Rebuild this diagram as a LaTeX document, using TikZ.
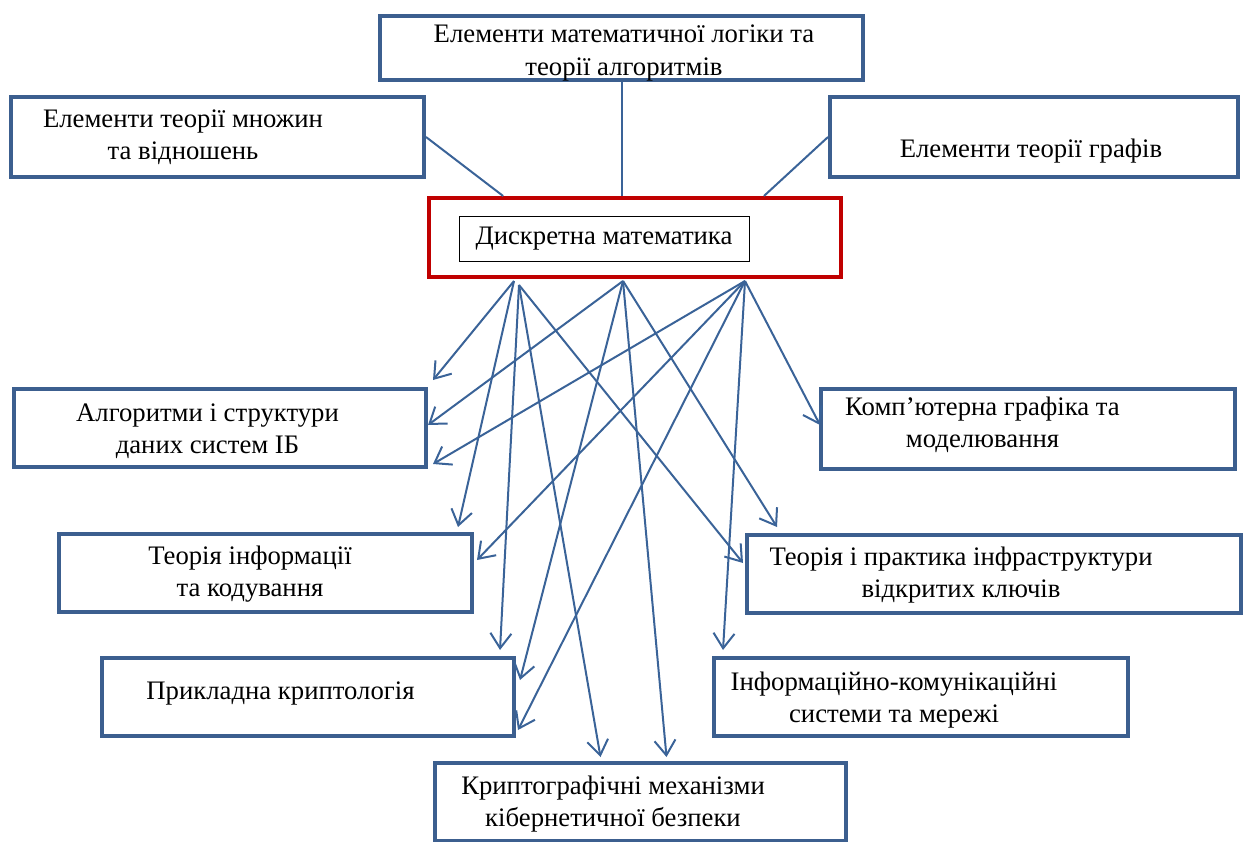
\documentclass[tikz,border=0pt]{standalone}
\usepackage{fontspec}
\setmainfont{Liberation Serif}
\usetikzlibrary{arrows.meta,calc}

\definecolor{boxblue}{HTML}{3C5F8F}
\definecolor{lineblue}{HTML}{3A6398}
\definecolor{dmred}{HTML}{C00000}

\begin{document}
\begin{tikzpicture}[x=0.2mm, y=-0.2mm, font=\fontsize{15.2}{18.4}\selectfont,
    box/.style 2 args={draw=boxblue, line width=0.8mm, inner sep=0pt,
        minimum width=#1*0.2mm, minimum height=#2*0.2mm},
    txt/.style={align=center, inner sep=0pt},
    link/.style={draw=lineblue, line width=0.4mm},
    arr/.style={link, -{Straight Barb[length=3mm, width=4.2mm]}}]

        \useasboundingbox (0,0) rectangle (1246,841);

        % Upper row
        \node[box={483}{64}] (logic) at (621.5,48) {};
        \node[txt] (logic-t) at (624,53) {Елементи математичної логіки та\\теорії алгоритмів};
        \node[box={413}{80}] (setl) at (217.5,137) {};
        \node[txt] (setl-t) at (183,137) {Елементи теорії множин\\та відношень};
        \node[box={408}{80}] (graph) at (1034,137) {};
        \node[txt] (graph-t) at (1031,151) {Елементи теорії графів};

        % Central block
        \node[box={412}{79}, draw=dmred] (dm) at (635,237.5) {};
        \node[draw=black, line width=0.5pt, inner sep=0pt, minimum width=58mm,
            minimum height=9mm] (dmin) at (604,238.5) {\raisebox{-2pt}{Дискретна математика}};

        \draw[link] (setl.east) -- ($(dm.north west)!0.183!(dm.north east)$);
        \draw[link] (logic.south) -- (logic.south |- dm.north);
        \draw[link] (graph.west) -- ($(dm.north west)!0.81!(dm.north east)$);

        % Lower boxes
        \node[box={412}{78}] (alg) at (220,428) {};
        \node[txt] (alg-t) at (207.5,431) {Алгоритми і структури\\даних систем ІБ};
        \node[box={413}{78}] (inf) at (265.5,573) {};
        \node[txt] (inf-t) at (250,574) {Теорія інформації\\та кодування};
        \node[box={412}{78}] (prk) at (308,697) {};
        \node[txt] (prk-t) at (280.5,693) {Прикладна криптологія};
        \node[box={414}{80}] (cg) at (1028,429) {};
        \node[txt] (cg-t) at (982.5,425) {Комп’ютерна графіка та\\моделювання};
        \node[box={494}{78}] (pki) at (994,574) {};
        \node[txt] (pki-t) at (961,575) {Теорія і практика інфраструктури\\відкритих ключів};
        \node[box={414}{78}] (icm) at (921,697) {};
        \node[txt] (icm-t) at (894,700) {Інформаційно-комунікаційні\\системи та мережі};
        \node[box={411}{78}] (kr) at (640.5,802) {};
        \node[txt] (kr-t) at (613,804) {Криптографічні механізми\\кібернетичної безпеки};

        % Outlets on the lower edge of the central block
        \coordinate (oA) at (514,281);
        \coordinate (oA2) at (519,285);
        \coordinate (oB) at (623,281);
        \coordinate (oC) at (745,281);

        \draw[arr] (oA) -- ($(alg.north east)+(5,-7)$);
        \draw[arr] (oA) -- ($(inf.north east)+(-16,-5)$);

        \draw[arr] (oA2) -- ($(prk.north east)+(-16,-6)$);
        \draw[arr] (oA2) -- ($(kr.north)+(-40,-4)$);
        \draw[arr] (oA2) -- ($(pki.west)+(-2,-11)$);

        \draw[arr] (oB) -- ($(alg.east)+(0,-3)$);
        \draw[arr] (oB) -- ($(prk.east)+(4,-17)$);
        \draw[arr] (oB) -- ($(kr.north)+(26,-4)$);
        \draw[arr] (oB) -- ($(pki.north west)+(32,-6)$);

        \draw[arr] (oC) -- ($(alg.south east)+(5,-5)$);
        \draw[arr] (oC) -- ($(inf.east)+(3,-13)$);
        \draw[arr] (oC) -- ($(prk.south east)+(2,-8)$);
        \draw[arr] (oC) -- ($(icm.north west)+(11,-6)$);
        \draw[arr] (oC) -- ($(cg.west)+(1,-4)$);

    \end{tikzpicture}
\end{document}
